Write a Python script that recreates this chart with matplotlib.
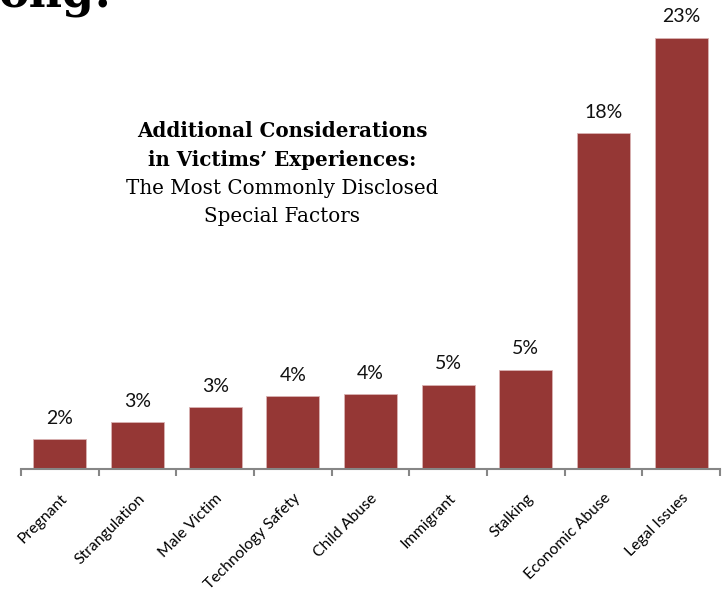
import numpy as np
import matplotlib
matplotlib.use("Agg")
import matplotlib.pyplot as plt
from matplotlib.ticker import FixedLocator

# ---------------------------------------------------------------------------
# Data
# ---------------------------------------------------------------------------

categories = [
    "Pregnant", "Strangulation", "Male Victim", "Technology Safety",
    "Child Abuse", "Immigrant", "Stalking", "Economic Abuse", "Legal Issues",
]
values = [1.6, 2.5, 3.3, 3.9, 4.0, 4.5, 5.3, 17.9, 23.0]
value_labels = ["2%", "3%", "3%", "4%", "4%", "5%", "5%", "18%", "23%"]

note_bold = ["Additional Considerations", "in Victims\u2019 Experiences:"]
note_plain = ["The Most Commonly Disclosed", "Special Factors"]

BAR_COLOR = "#953735"
AXIS_COLOR = "#868686"
LABEL_FONT = ["Lato", "DejaVu Sans"]
SERIF_FONT = ["DejaVu Serif"]

# ---------------------------------------------------------------------------
# Figure
# ---------------------------------------------------------------------------

fig = plt.figure(figsize=(7.27, 5.92), dpi=100)
ax = fig.add_axes([21 / 727, 1 - 469 / 592, 699 / 727, 469 / 592])

x = np.arange(len(categories))
ax.bar(x, values, width=0.68, color=BAR_COLOR,
       edgecolor="#d9b3b3", linewidth=0.6, zorder=2)

ax.set_xlim(-0.5, len(categories) - 0.5)
ax.set_ylim(0, 25)

for xi, v, lab in zip(x, values, value_labels):
    ax.annotate(lab, (xi, v), xytext=(0, 15), textcoords="offset points",
                ha="center", va="center", fontsize=14, family=LABEL_FONT,
                color="#111111", annotation_clip=False)

for side in ["top", "right", "left"]:
    ax.spines[side].set_visible(False)
ax.spines["bottom"].set_color(AXIS_COLOR)
ax.spines["bottom"].set_linewidth(1.5)
ax.set_yticks([])

# labels at category centres, tick marks at category boundaries
ax.set_xticks(x)
ax.set_xticklabels(categories, rotation=45, ha="right",
                   rotation_mode="anchor", fontsize=11.3, family=LABEL_FONT)
ax.tick_params(axis="x", which="major", length=0, pad=16)
ax.xaxis.set_minor_locator(FixedLocator(np.arange(len(categories) + 1) - 0.5))
ax.tick_params(axis="x", which="minor", length=5, width=1.5,
               color=AXIS_COLOR, direction="out")

# chart annotation, one line at a time
line_y = [131, 160, 188, 216]
for i, line in enumerate(note_bold + note_plain):
    fig.text(282 / 727, 1 - line_y[i] / 592, line,
             ha="center", va="center", fontsize=14.3,
             fontweight="bold" if line in note_bold else "normal",
             family=SERIF_FONT)

# cropped slide title fragment at the top-left corner
fig.text(-2 / 727, 1 - 7 / 592, "ong:", ha="left", va="baseline",
         fontsize=33, fontweight="bold", family=SERIF_FONT)

fig.savefig("out.png", dpi=100)
